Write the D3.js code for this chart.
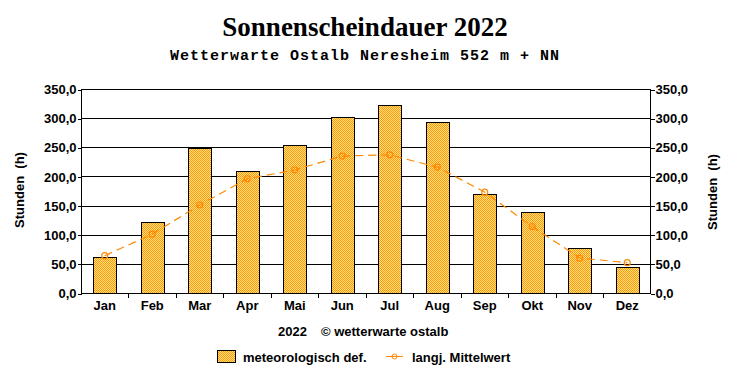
<!DOCTYPE html>
<html>
<head>
<meta charset="utf-8">
<script src="https://cdn.jsdelivr.net/npm/d3@7/dist/d3.min.js"></script>
<style>
  html, body { margin: 0; padding: 0; background: #fff; }
  svg { display: block; }
</style>
</head>
<body>
<svg id="chart" width="732" height="380"></svg>
<script>
const months = ["Jan","Feb","Mar","Apr","Mai","Jun","Jul","Aug","Sep","Okt","Nov","Dez"];
const sunshine2022 = [62, 122, 248, 209, 254, 302, 322, 293, 170, 139, 77, 45];
const longTermMean = [64, 101, 151, 196, 211, 235, 237, 216, 173, 114, 60, 52];
const yTicks = [0, 50, 100, 150, 200, 250, 300, 350];

const title = "Sonnenscheindauer 2022";
const subtitle = "Wetterwarte Ostalb Neresheim 552 m + NN";
const yLabel = "Stunden  (h)";
const footerYear = "2022";
const footerCopy = "© wetterwarte ostalb";
const legendBars = "meteorologisch def.";
const legendLine = "langj. Mittelwert";

(function () {
const svg = d3.select("#chart");
const plotL = 81, plotR = 651, plotT = 89, plotB = 293;
const fs = 13;

const defs = svg.append("defs");
const pat = defs.append("pattern")
  .attr("id", "dither").attr("width", 2).attr("height", 2)
  .attr("patternUnits", "userSpaceOnUse");
pat.append("rect").attr("width", 2).attr("height", 2).attr("fill", "#ffe08a");
pat.append("rect").attr("x", 0).attr("y", 0).attr("width", 1).attr("height", 1).attr("fill", "#ff9900");
pat.append("rect").attr("x", 1).attr("y", 1).attr("width", 1).attr("height", 1).attr("fill", "#ff9900");

const x = d3.scaleBand().domain(months).range([plotL, plotR])
  .paddingInner(0.52).paddingOuter(0.26);
const y = d3.scaleLinear().domain([0, 350]).range([plotB, plotT]);
const fmt = v => d3.format(".1f")(v).replace(".", ",");

// Title
svg.append("text").attr("x", 365).attr("y", 36).attr("text-anchor", "middle")
  .attr("font-family", "'Liberation Serif', 'Times New Roman', serif")
  .attr("font-weight", "bold").attr("font-size", 27).attr("fill", "#000")
  .text(title);
svg.append("text").attr("x", 365).attr("y", 60).attr("text-anchor", "middle")
  .attr("font-family", "'Liberation Mono', 'Courier New', monospace")
  .attr("font-weight", "bold").attr("font-size", 15).attr("letter-spacing", 1)
  .attr("fill", "#000")
  .text(subtitle);

// Grid lines
svg.append("g").selectAll("line").data(yTicks).join("line")
  .attr("x1", plotL).attr("x2", plotR)
  .attr("y1", d => Math.round(y(d)) + 0.5).attr("y2", d => Math.round(y(d)) + 0.5)
  .attr("stroke", "#000").attr("stroke-width", 1).attr("shape-rendering", "crispEdges");

// Axes
const axisFont = "'Liberation Sans', Arial, sans-serif";
const gL = svg.append("g").attr("transform", `translate(${plotL + 0.5},0.5)`)
  .call(d3.axisLeft(y).tickValues(yTicks).tickFormat(fmt).tickSize(4).tickPadding(1));
const gR = svg.append("g").attr("transform", `translate(${plotR - 0.5},0.5)`)
  .call(d3.axisRight(y).tickValues(yTicks).tickFormat(fmt).tickSize(4).tickPadding(1));
[gL, gR].forEach(g => {
  g.select(".domain").attr("stroke", "#000").attr("shape-rendering", "crispEdges")
    .attr("d", `M0,${y(350)}V${y(0)}`);
  g.selectAll(".tick line").attr("stroke", "#000").attr("shape-rendering", "crispEdges");
  g.selectAll(".tick text").attr("font-family", axisFont).attr("font-weight", "bold")
    .attr("font-size", fs).attr("fill", "#000");
});

// Bottom category axis
const gB = svg.append("g").attr("transform", `translate(0,${Math.round(y(0)) + 0.5})`)
  .call(d3.axisBottom(x).tickSize(0).tickPadding(7));
gB.select(".domain").remove();
gB.selectAll(".tick text").attr("font-family", axisFont).attr("font-weight", "bold")
  .attr("font-size", fs).attr("fill", "#000");
const boundaries = months.slice(1).map(m => x(m) - x.step() * x.paddingInner() / 2);
gB.selectAll(".bound").data(boundaries).join("line").attr("class", "bound")
  .attr("x1", d => Math.round(d) + 0.5).attr("x2", d => Math.round(d) + 0.5)
  .attr("y1", 0).attr("y2", 4).attr("stroke", "#000").attr("shape-rendering", "crispEdges");

// Bars
svg.append("g").selectAll("rect").data(sunshine2022).join("rect")
  .attr("x", (d, i) => Math.round(x(months[i])) + 0.5)
  .attr("y", d => Math.round(y(d)) + 0.5)
  .attr("width", Math.round(x.bandwidth()))
  .attr("height", d => Math.round(y(0)) - Math.round(y(d)))
  .attr("fill", "url(#dither)").attr("stroke", "#000").attr("stroke-width", 1)
  .attr("shape-rendering", "crispEdges");

// Mean line
const lineColor = "#ff8800";
const cx = (i) => x(months[i]) + x.bandwidth() / 2;
svg.append("path").datum(longTermMean)
  .attr("d", d3.line().x((d, i) => cx(i)).y(d => y(d)))
  .attr("fill", "none").attr("stroke", lineColor).attr("stroke-width", 1.2)
  .attr("stroke-dasharray", "8,5");
svg.append("g").selectAll("circle").data(longTermMean).join("circle")
  .attr("cx", (d, i) => cx(i)).attr("cy", d => y(d)).attr("r", 3)
  .attr("fill", "none").attr("stroke", lineColor).attr("stroke-width", 1.2);

// Y axis titles
svg.append("text").attr("transform", "translate(24,190) rotate(-90)")
  .attr("text-anchor", "middle").attr("font-family", axisFont).attr("font-weight", "bold")
  .attr("font-size", fs).attr("fill", "#000").style("white-space", "pre").text(yLabel);
svg.append("text").attr("transform", "translate(717,192) rotate(-90)")
  .attr("text-anchor", "middle").attr("font-family", axisFont).attr("font-weight", "bold")
  .attr("font-size", fs).attr("fill", "#000").style("white-space", "pre").text(yLabel);

// Footer
svg.append("text").attr("x", 278).attr("y", 336).attr("font-family", axisFont)
  .attr("font-weight", "bold").attr("font-size", fs).attr("fill", "#000").text(footerYear);
svg.append("text").attr("x", 321).attr("y", 336).attr("font-family", axisFont)
  .attr("font-weight", "bold").attr("font-size", fs).attr("fill", "#000").text(footerCopy);

// Legend
svg.append("rect").attr("x", 217.5).attr("y", 350.5).attr("width", 18).attr("height", 12)
  .attr("fill", "url(#dither)").attr("stroke", "#000").attr("shape-rendering", "crispEdges");
svg.append("text").attr("x", 243).attr("y", 362).attr("font-family", axisFont)
  .attr("font-weight", "bold").attr("font-size", fs).attr("fill", "#000").text(legendBars);
svg.append("line").attr("x1", 386).attr("x2", 403).attr("y1", 356.5).attr("y2", 356.5)
  .attr("stroke", lineColor).attr("stroke-width", 1);
svg.append("circle").attr("cx", 394.5).attr("cy", 356.5).attr("r", 2.5)
  .attr("fill", "none").attr("stroke", lineColor).attr("stroke-width", 1);
svg.append("text").attr("x", 412).attr("y", 362).attr("font-family", axisFont)
  .attr("font-weight", "bold").attr("font-size", fs).attr("fill", "#000").text(legendLine);
})();
</script>
</body>
</html>
